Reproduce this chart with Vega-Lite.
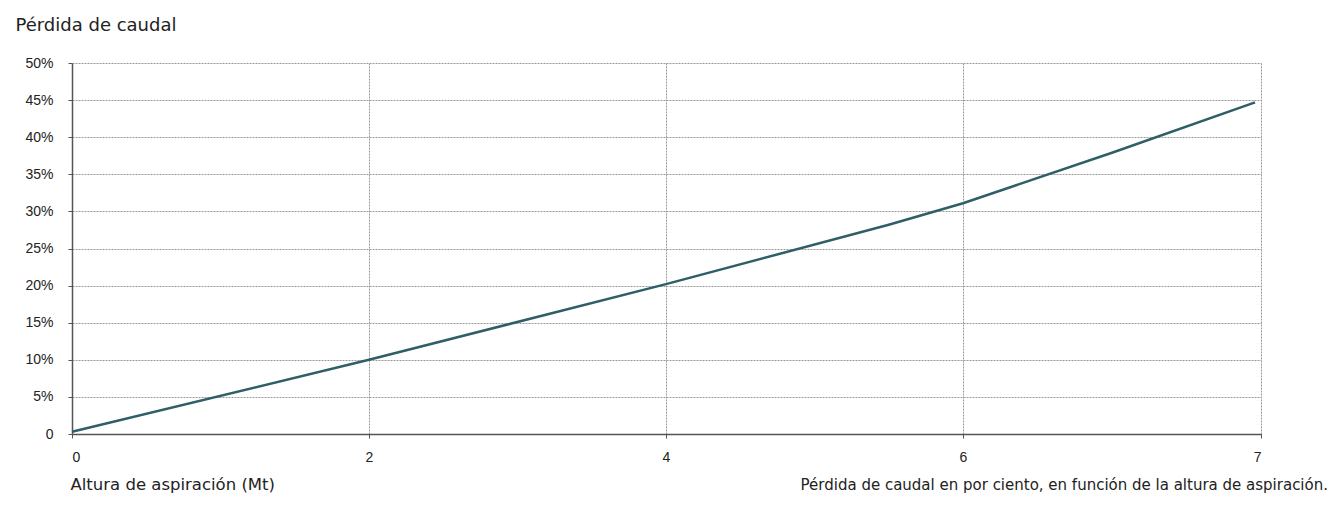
{
  "$schema": "https://vega.github.io/schema/vega-lite/v6.json",
  "width": 1189,
  "height": 371,
  "autosize": "none",
  "padding": {"left": 72, "top": 63, "right": 78, "bottom": 77},
  "background": "white",
  "title": {
    "text": "Pérdida de caudal en por ciento, en función de la altura de aspiración.",
    "orient": "bottom",
    "anchor": "end",
    "frame": "group",
    "dx": 67,
    "dy": -19,
    "font": "DejaVu Sans",
    "fontSize": 15,
    "fontWeight": "normal",
    "color": "#222222"
  },
  "data": {
    "values": [
      {"altura": 0, "perdida": 0.003},
      {"altura": 2, "perdida": 0.100},
      {"altura": 4, "perdida": 0.202},
      {"altura": 5.5, "perdida": 0.282},
      {"altura": 6, "perdida": 0.311},
      {"altura": 6.5, "perdida": 0.379},
      {"altura": 6.98, "perdida": 0.447}
    ]
  },
  "config": {
    "view": {"stroke": null},
    "axis": {
      "labelFont": "Liberation Sans",
      "labelFontSize": 14,
      "labelColor": "#222222",
      "gridColor": "#9a9a9a",
      "gridDash": [2, 1],
      "gridWidth": 1,
      "domainColor": "#555555",
      "domainWidth": 1.5,
      "tickColor": "#555555",
      "tickSize": 4,
      "titleFont": "DejaVu Sans",
      "titleFontWeight": "normal",
      "titleColor": "#222222"
    }
  },
  "mark": {"type": "line", "color": "#2f5f66", "strokeWidth": 2.5},
  "encoding": {
    "x": {
      "field": "altura",
      "type": "quantitative",
      "scale": {"domain": [0, 2, 4, 6, 7], "range": [0, 297, 594, 891, 1189]},
      "axis": {
        "values": [0, 2, 4, 6, 7],
        "labelPadding": 12,
        "title": "Altura de aspiración (Mt)",
        "titleFontSize": 16.5,
        "titleAnchor": "start",
        "titleAlign": "left",
        "titleX": -2,
        "titleY": 55,
        "titleBaseline": "alphabetic"
      }
    },
    "y": {
      "field": "perdida",
      "type": "quantitative",
      "scale": {"domain": [0, 0.5]},
      "axis": {
        "values": [0, 0.05, 0.1, 0.15, 0.2, 0.25, 0.3, 0.35, 0.4, 0.45, 0.5],
        "labelExpr": "datum.value == 0 ? '0' : format(datum.value, '.0%')",
        "labelPadding": 15,
        "title": "Pérdida de caudal",
        "titleFontSize": 18,
        "titleAngle": 0,
        "titleAlign": "left",
        "titleAnchor": "start",
        "titleX": -57,
        "titleY": -33,
        "titleBaseline": "alphabetic"
      }
    }
  }
}
